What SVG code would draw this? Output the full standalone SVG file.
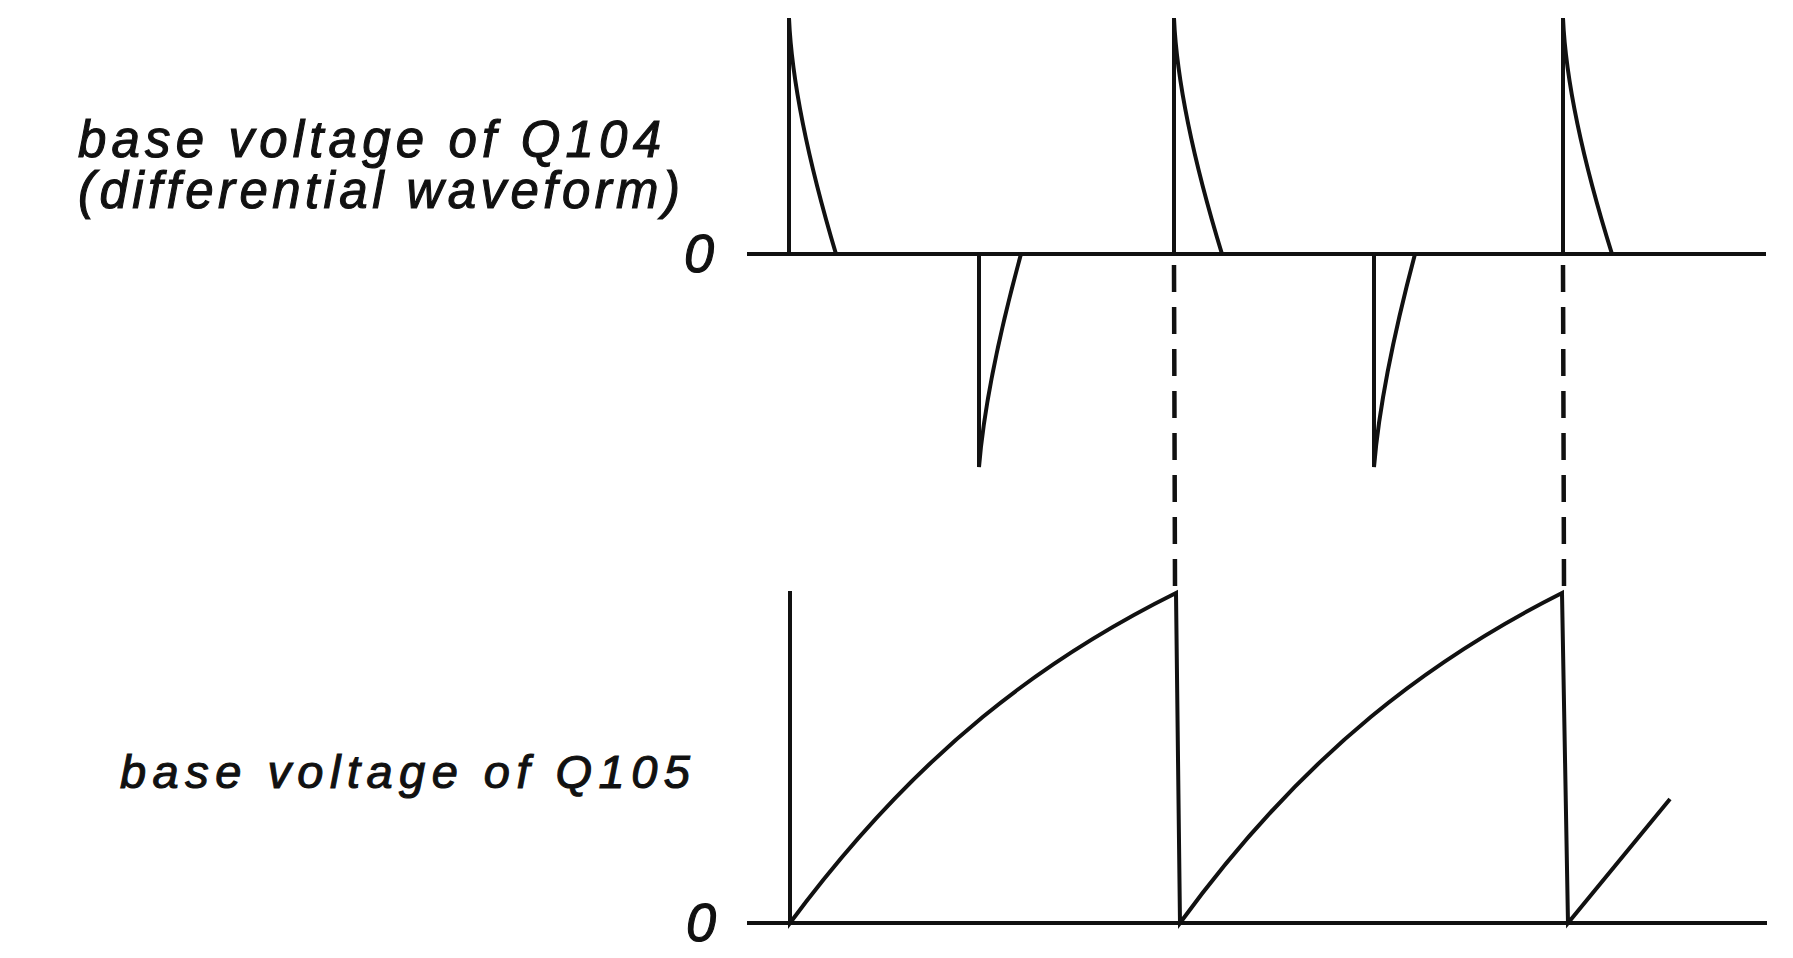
<svg xmlns="http://www.w3.org/2000/svg" width="1793" height="958" viewBox="0 0 1793 958">
<style>
.lbl{font-family:"Liberation Sans","Noto Sans",Arial,sans-serif;font-style:italic;fill:#111;stroke:#111;stroke-width:1.1;}
.big{font-size:51px;}
.zero{font-size:54px;}
.small{font-size:47px;}
.w{fill:none;stroke:#111;stroke-width:4;stroke-linejoin:miter;stroke-linecap:butt;}
.dash{fill:none;stroke:#111;stroke-width:4.5;stroke-dasharray:27 15;}
</style>
<rect width="1793" height="958" fill="#ffffff"/>
<g id="label-q104">
<text class="lbl big" x="78" y="157" textLength="583" lengthAdjust="spacing">base voltage of Q104</text>
<text class="lbl big" x="78" y="208" textLength="602" lengthAdjust="spacing">(differential waveform)</text>
<text class="lbl zero" x="684" y="272">0</text>
</g>
<g id="label-q105">
<text class="lbl small" x="120" y="788" textLength="570" lengthAdjust="spacing">base voltage of Q105</text>
<text class="lbl zero" x="686" y="941">0</text>
</g>
<g id="waveform-q104">
<line class="w" x1="747" y1="254" x2="1766" y2="254"/>
<path class="w" d="M789,254 V18 Q793,110 836,254"/>
<path class="w" d="M979,254 V467 Q986,382 1021,254"/>
<path class="w" d="M1174,254 V18 Q1178,110 1222,254"/>
<path class="w" d="M1374,254 V467 Q1381,382 1415,254"/>
<path class="w" d="M1563,254 V18 Q1567,110 1612,254"/>
</g>
<g id="waveform-q105">
<line class="w" x1="747" y1="923" x2="1767" y2="923"/>
<path class="w" d="M790,591 V923 C919,749 1047,657 1176,593 L1180,923 C1307,749 1435,657 1562,593 L1568,923 L1670,799"/>
</g>
<g id="connectors">
<line class="dash" x1="1174" y1="265" x2="1175" y2="586"/>
<line class="dash" x1="1563" y1="265" x2="1564" y2="586"/>
</g>
</svg>
